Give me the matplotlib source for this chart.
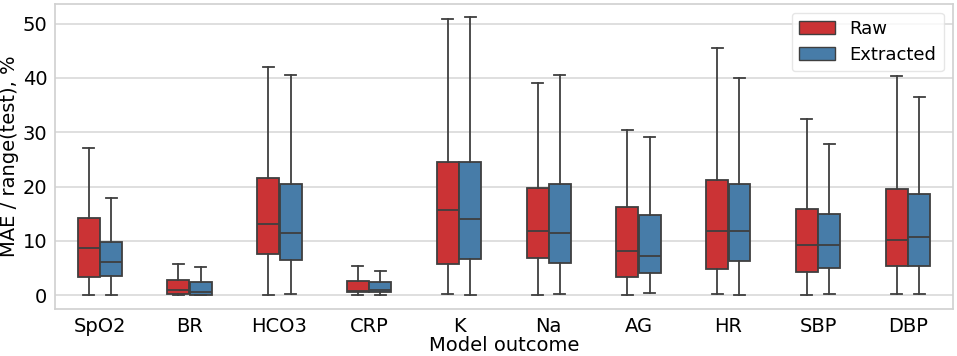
import numpy as np
import matplotlib
matplotlib.use("Agg")
import matplotlib.pyplot as plt
from matplotlib.patches import Patch
import colorsys

categories = ["SpO2", "BR", "HCO3", "CRP", "K", "Na", "AG", "HR", "SBP", "DBP"]
series = ["Raw", "Extracted"]

# whisker low, q1, median, q3, whisker high  (MAE / range(test), %)
raw_lo = [0.1, 0.0, 0.1, 0.0, 0.3, 0.05, 0.1, 0.2, 0.0, 0.2]
raw_q1 = [3.3, 0.3, 7.5, 0.6, 5.7, 6.8, 3.3, 4.8, 4.3, 5.3]
raw_med = [8.6, 0.9, 13.1, 0.85, 15.7, 11.8, 8.2, 11.8, 9.2, 10.1]
raw_q3 = [14.2, 2.75, 21.5, 2.6, 24.5, 19.7, 16.3, 21.2, 15.9, 19.5]
raw_hi = [27.1, 5.75, 42.1, 5.45, 50.9, 39.0, 30.5, 45.5, 32.5, 40.4]

ext_lo = [0.0, 0.0, 0.3, 0.0, 0.1, 0.2, 0.4, 0.05, 0.2, 0.25]
ext_q1 = [3.6, 0.1, 6.4, 0.6, 6.6, 6.0, 4.15, 6.2, 4.95, 5.45]
ext_med = [6.1, 0.55, 11.4, 1.0, 14.1, 11.5, 7.2, 11.8, 9.2, 10.8]
ext_q3 = [9.7, 2.5, 20.5, 2.4, 24.5, 20.4, 14.8, 20.4, 14.9, 18.7]
ext_hi = [17.9, 5.25, 40.6, 4.4, 51.2, 40.5, 29.1, 40.0, 27.8, 36.5]


def desat(c, p=0.75):
    h, l, s = colorsys.rgb_to_hls(*matplotlib.colors.to_rgb(c))
    return colorsys.hls_to_rgb(h, l, s * p)


colors = [desat("#e41a1c"), desat("#377eb8")]
edge = "#3f3f3f"

plt.rcParams["font.family"] = "DejaVu Sans"
plt.rcParams["font.size"] = 14

fig = plt.figure(figsize=(9.57, 3.56), dpi=100)
ax = fig.add_axes([0.0575, 0.132, 0.938, 0.858])

data = [
    (raw_lo, raw_q1, raw_med, raw_q3, raw_hi),
    (ext_lo, ext_q1, ext_med, ext_q3, ext_hi),
]
x = np.arange(len(categories))
w = 0.25
for k, (lo, q1, med, q3, hi) in enumerate(data):
    stats = [dict(whislo=lo[i], q1=q1[i], med=med[i], q3=q3[i], whishi=hi[i])
             for i in range(len(categories))]
    pos = x + (k - 0.5) * w
    ax.bxp(stats, positions=pos, widths=w * 0.98, showfliers=False,
           patch_artist=True, manage_ticks=False,
           boxprops=dict(facecolor=colors[k], edgecolor=edge, linewidth=1.3),
           medianprops=dict(color=edge, linewidth=1.3),
           whiskerprops=dict(color=edge, linewidth=1.3),
           capprops=dict(color=edge, linewidth=1.3))

ax.set_xticks(x)
ax.set_xticklabels(categories)
ax.set_xlim(-0.5, len(categories) - 0.5)
ax.set_ylim(-2.55, 53.7)
ax.set_yticks([0, 10, 20, 30, 40, 50])
ax.yaxis.grid(True, color="#d9d9d9", linewidth=1.2)
ax.set_axisbelow(True)
ax.tick_params(axis="y", length=0, pad=5.5)
ax.tick_params(axis="x", length=0, pad=6)
for s in ax.spines.values():
    s.set_color("#d0d0d0")
    s.set_linewidth(1.2)
ax.set_ylabel("MAE / range(test), %")
ax.yaxis.set_label_coords(-0.040, 0.5)
ax.set_xlabel("Model outcome", labelpad=0)

handles = [Patch(facecolor=colors[k], edgecolor=edge, label=series[k]) for k in range(2)]
ax.legend(handles=handles, loc="upper right", frameon=True, fontsize=13,
          edgecolor="#e0e0e0", handlelength=2.0, handleheight=0.7,
          handletextpad=0.8, borderaxespad=0.5, labelspacing=0.45)

fig.savefig("out.png", dpi=100)
